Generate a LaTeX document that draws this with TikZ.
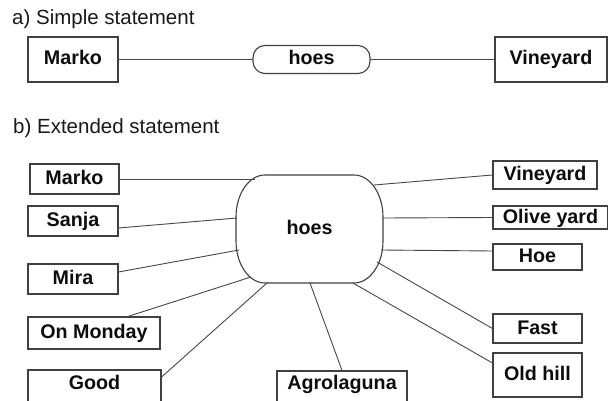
\documentclass[tikz,border=0pt]{standalone}
\usepackage{fontspec}
\setmainfont{Liberation Sans}
\begin{document}
\begin{tikzpicture}[x=1pt,y=1pt,
  lbl/.style={font=\fontsize{19.7}{20}\selectfont\bfseries, text=black!95, inner sep=0pt, text height=15pt, text depth=4pt},
  box/.style={lbl, draw=black!75, line width=1.1pt, rectangle},
  lowbox/.style={box, text depth=13pt},
  conn/.style={draw=black!72, line width=0.9pt},
  head/.style={font=\fontsize{20.5}{22}\selectfont, text=black!90, inner sep=0pt, anchor=base west}
]
\clip (0,0) rectangle (608,-401);
\fill[white] (0,0) rectangle (608,-401);

% ---- a) simple statement ----
\node[head] (ha) at (12,-25) {a) Simple statement};
\node[box, minimum width=90pt, minimum height=45pt] (tMarko) at (73,-59.5) {Marko};
\node[box, rounded corners=12pt, minimum width=117pt, minimum height=28pt] (thoes) at (311.5,-59.5) {hoes};
\node[box, minimum width=112pt, minimum height=45pt] (tVine) at (551,-59.5) {Vineyard};
\draw[conn] (tMarko.east) -- (thoes.west);
\draw[conn] (thoes.east) -- (tVine.west);

% ---- b) extended statement ----
\node[head] (hb) at (13,-134) {b) Extended statement};

% central shape
\draw[line width=1.1pt, draw=black!75, fill=white]
  (265,-175) -- (354,-175)
  arc[start angle=90, end angle=0, x radius=29pt, y radius=42pt] -- (383,-241)
  arc[start angle=0, end angle=-90, x radius=29pt, y radius=42pt] -- (265,-283)
  arc[start angle=270, end angle=180, x radius=29pt, y radius=42pt] -- (236,-217)
  arc[start angle=180, end angle=90, x radius=29pt, y radius=42pt] -- cycle;
\node[lbl, anchor=base] (hoes) at (309.5,-234) {hoes};

% endpoints on the central shape
\coordinate (pMarko) at (255,-179);
\coordinate (pSanja) at (237,-218);
\coordinate (pMira) at (239,-250);
\coordinate (pMon) at (251,-277);
\coordinate (pGood) at (267,-283);
\coordinate (pAgro) at (310,-283);
\coordinate (pVine) at (374,-185);
\coordinate (pOlive) at (383,-218);
\coordinate (pHoe) at (381,-250);
\coordinate (pFast) at (377,-262);
\coordinate (pOld) at (353,-283);

% left boxes
\node[box, minimum width=89pt, minimum height=30pt] (bMarko) at (74.5,-179) {Marko};
\node[box, minimum width=90pt, minimum height=30pt] (bSanja) at (73,-221) {Sanja};
\node[box, minimum width=90pt, minimum height=30pt] (bMira) at (73,-279) {Mira};
\node[box, minimum width=132pt, minimum height=32pt] (bMon) at (94,-333) {On Monday};
\node[lowbox, minimum width=133pt, minimum height=36pt] (bGood) at (94.5,-388) {Good};
\node[lowbox, minimum width=130pt, minimum height=34pt] (bAgro) at (342,-388) {Agrolaguna};

% right boxes
\node[box, minimum width=104pt, minimum height=28pt] (bVine) at (545,-175) {Vineyard};
\node[box, minimum width=115pt, minimum height=23pt] (bOlive) at (550.5,-217.5) {Olive yard};
\node[box, minimum width=89pt, minimum height=26pt] (bHoe) at (537.5,-257) {Hoe};
\node[box, minimum width=89pt, minimum height=29pt] (bFast) at (537.5,-328.5) {Fast};
\node[box, minimum width=89pt, minimum height=44pt] (bOld) at (537.5,-375) {Old hill};

% connectors
\draw[conn] (bMarko.east) -- (pMarko);
\draw[conn] ([yshift=-7pt]bSanja.east) -- (pSanja);
\draw[conn] ([yshift=7pt]bMira.east) -- (pMira);
\draw[conn] ([xshift=34pt]bMon.north) -- (pMon);
\draw[conn] ([yshift=11pt]bGood.east) -- (pGood);
\draw[conn] (bAgro.north) -- (pAgro);
\draw[conn] (pVine) -- (bVine.west);
\draw[conn] (pOlive) -- (bOlive.west);
\draw[conn] (pHoe) -- ([yshift=6pt]bHoe.west);
\draw[conn] (pFast) -- (bFast.west);
\draw[conn] (pOld) -- ([yshift=12pt]bOld.west);
\end{tikzpicture}
\end{document}
